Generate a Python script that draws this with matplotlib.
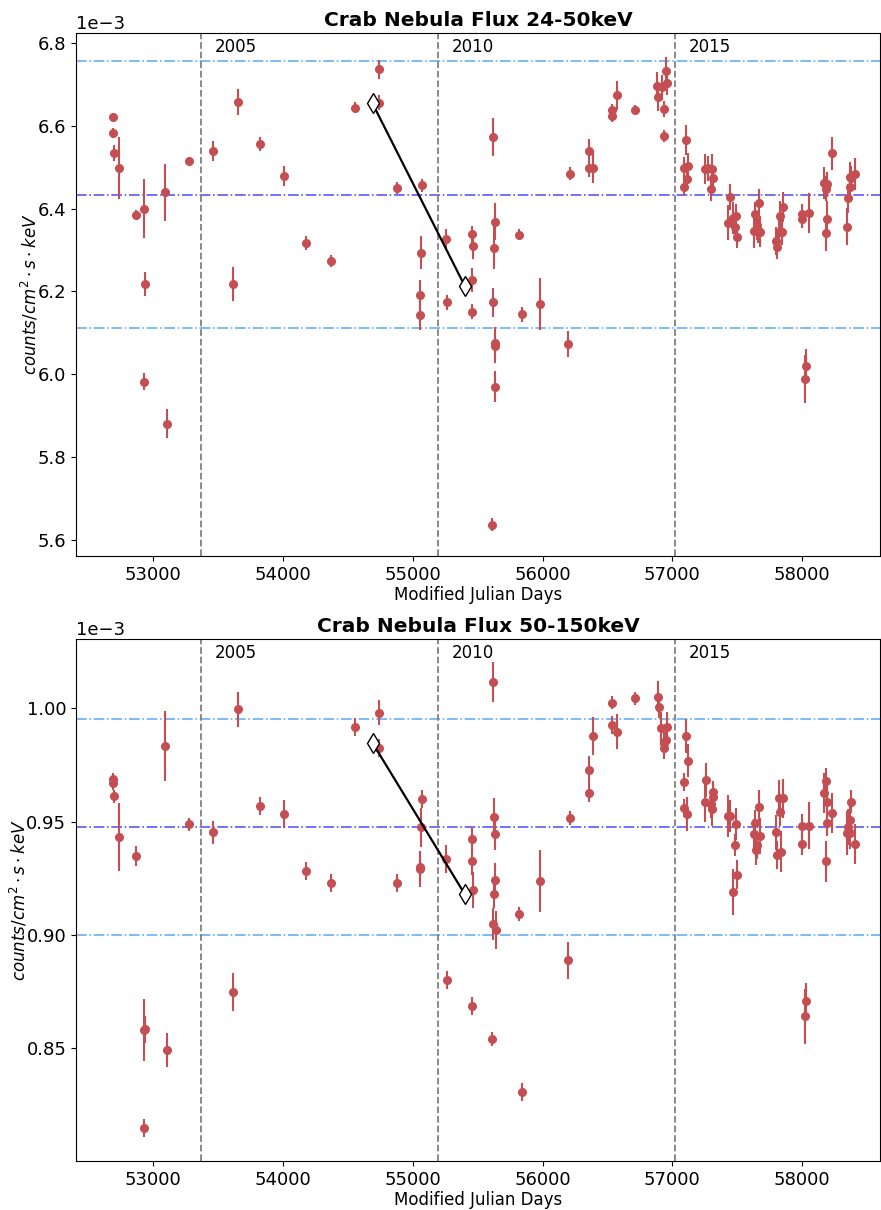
import matplotlib
matplotlib.use("Agg")
import matplotlib.pyplot as plt
import matplotlib.transforms as mtransforms
import numpy as np

# ---------------- data (flux in units of 1e-3 counts/cm^2/s/keV) ----------------
mjd_lo = [52690, 52694, 52697, 52736, 52869, 52933, 52938, 52933, 53092, 53108,
          53277, 53460, 53616, 53655, 53827, 54009, 54181, 54371, 54556, 54741,
          54741, 54877, 55072, 55062, 55059, 55057, 55260, 55265, 55458, 55465,
          55458, 55460, 55622, 55630, 55625, 55619, 55637, 55632, 55637, 55612,
          55822, 55843, 55977, 56197, 56215, 56359, 56357, 56388, 56534, 56536,
          56577, 56714, 56880, 56891, 56919, 56937, 56950, 56955, 56932, 57104,
          57091, 57124, 57114, 57091, 57253, 57271, 57304, 57314, 57299, 57443,
          57430, 57471, 57487, 57479, 57495, 57638, 57651, 57630, 57676, 57669,
          57661, 57798, 57807, 57823, 57833, 57852, 57844, 57998, 58001, 58054,
          58026, 58024, 58170, 58190, 58185, 58195, 58180, 58229, 58347, 58354,
          58365, 58372, 58380, 58408]
flux_lo = [6.622, 6.582, 6.534, 6.499, 6.385, 6.400, 6.218, 5.982, 6.439, 5.880,
           6.515, 6.540, 6.218, 6.657, 6.556, 6.479, 6.317, 6.273, 6.644, 6.736,
           6.656, 6.450, 6.456, 6.293, 6.192, 6.142, 6.327, 6.174, 6.338, 6.309,
           6.228, 6.151, 6.572, 6.368, 6.306, 6.174, 6.075, 6.068, 5.970, 5.637,
           6.337, 6.145, 6.170, 6.073, 6.484, 6.539, 6.497, 6.499, 6.624, 6.638,
           6.674, 6.639, 6.696, 6.670, 6.693, 6.641, 6.733, 6.704, 6.575, 6.566,
           6.499, 6.504, 6.472, 6.453, 6.495, 6.497, 6.495, 6.473, 6.448, 6.428,
           6.366, 6.377, 6.381, 6.356, 6.331, 6.386, 6.360, 6.346, 6.344, 6.414,
           6.348, 6.322, 6.307, 6.343, 6.382, 6.403, 6.343, 6.386, 6.374, 6.389,
           6.020, 5.988, 6.461, 6.459, 6.448, 6.374, 6.340, 6.534, 6.356, 6.425,
           6.476, 6.453, 6.473, 6.484]
err_lo = [0.010, 0.012, 0.020, 0.075, 0.012, 0.071, 0.028, 0.020, 0.068, 0.035,
          0.010, 0.024, 0.041, 0.032, 0.016, 0.025, 0.018, 0.014, 0.014, 0.023,
          0.018, 0.015, 0.015, 0.040, 0.036, 0.034, 0.024, 0.018, 0.020, 0.030,
          0.029, 0.018, 0.046, 0.045, 0.052, 0.035, 0.040, 0.040, 0.037, 0.015,
          0.014, 0.018, 0.063, 0.032, 0.016, 0.029, 0.020, 0.037, 0.015, 0.015,
          0.035, 0.012, 0.034, 0.035, 0.030, 0.020, 0.033, 0.030, 0.015, 0.036,
          0.025, 0.030, 0.025, 0.020, 0.036, 0.030, 0.037, 0.025, 0.030, 0.032,
          0.042, 0.038, 0.030, 0.030, 0.027, 0.030, 0.035, 0.042, 0.037, 0.034,
          0.030, 0.034, 0.028, 0.035, 0.036, 0.036, 0.030, 0.025, 0.020, 0.049,
          0.040, 0.058, 0.039, 0.030, 0.030, 0.044, 0.042, 0.040, 0.045, 0.035,
          0.036, 0.030, 0.030, 0.038]

mjd_hi = [52690, 52694, 52697, 52736, 52869, 52933, 52938, 52933, 53092, 53108,
          53277, 53460, 53616, 53655, 53827, 54009, 54181, 54371, 54556, 54741,
          54741, 54877, 55072, 55062, 55059, 55057, 55260, 55265, 55458, 55465,
          55458, 55460, 55622, 55627, 55630, 55637, 55625, 55619, 55640, 55612,
          55822, 55843, 55977, 56197, 56215, 56359, 56357, 56388, 56534, 56536,
          56577, 56714, 56886, 56894, 56914, 56932, 56937, 56950, 56958, 57104,
          57124, 57091, 57091, 57114, 57263, 57253, 57310, 57314, 57299, 57304,
          57430, 57443, 57487, 57482, 57471, 57495, 57638, 57630, 57645, 57653,
          57669, 57679, 57798, 57805, 57818, 57833, 57849, 57838, 57998, 58001,
          58054, 58026, 58024, 58185, 58170, 58190, 58195, 58180, 58229, 58347,
          58357, 58365, 58372, 58380, 58408]
flux_hi = [0.9687, 0.9669, 0.9612, 0.9432, 0.9350, 0.8581, 0.8584, 0.8147, 0.9834, 0.8493,
           0.9488, 0.9453, 0.8749, 0.9996, 0.9569, 0.9534, 0.9282, 0.9229, 0.9919, 0.9981,
           0.9826, 0.9228, 0.9599, 0.9476, 0.9299, 0.9290, 0.9335, 0.8800, 0.9422, 0.9200,
           0.9325, 0.8688, 1.0116, 0.9519, 0.9446, 0.9243, 0.9180, 0.9049, 0.9022, 0.8541,
           0.9093, 0.8306, 0.9238, 0.8888, 0.9515, 0.9728, 0.9625, 0.9878, 1.0025, 0.9926,
           0.9897, 1.0044, 1.0051, 1.0007, 0.9912, 0.9845, 0.9825, 0.9860, 0.9919, 0.9879,
           0.9769, 0.9676, 0.9559, 0.9535, 0.9684, 0.9585, 0.9630, 0.9610, 0.9578, 0.9557,
           0.9525, 0.9525, 0.9490, 0.9397, 0.9190, 0.9265, 0.9493, 0.9444, 0.9375, 0.9397,
           0.9563, 0.9438, 0.9453, 0.9353, 0.9603, 0.9541, 0.9603, 0.9367, 0.9482, 0.9401,
           0.9482, 0.8710, 0.8641, 0.9680, 0.9625, 0.9588, 0.9495, 0.9326, 0.9538, 0.9451,
           0.9478, 0.9507, 0.9449, 0.9588, 0.9401]
err_hi = [0.0030, 0.0030, 0.0030, 0.0149, 0.0044, 0.0136, 0.0060, 0.0040, 0.0156, 0.0075,
          0.0030, 0.0050, 0.0085, 0.0077, 0.0040, 0.0062, 0.0040, 0.0040, 0.0040, 0.0055,
          0.0040, 0.0040, 0.0040, 0.0086, 0.0070, 0.0080, 0.0060, 0.0040, 0.0050, 0.0080,
          0.0060, 0.0040, 0.0090, 0.0085, 0.0073, 0.0073, 0.0060, 0.0070, 0.0085, 0.0030,
          0.0030, 0.0040, 0.0135, 0.0080, 0.0030, 0.0060, 0.0040, 0.0085, 0.0030, 0.0040,
          0.0076, 0.0030, 0.0068, 0.0050, 0.0073, 0.0050, 0.0050, 0.0050, 0.0066, 0.0074,
          0.0073, 0.0040, 0.0040, 0.0075, 0.0073, 0.0085, 0.0050, 0.0060, 0.0060, 0.0075,
          0.0092, 0.0070, 0.0070, 0.0050, 0.0100, 0.0064, 0.0060, 0.0066, 0.0066, 0.0060,
          0.0077, 0.0080, 0.0077, 0.0060, 0.0080, 0.0060, 0.0085, 0.0090, 0.0050, 0.0050,
          0.0104, 0.0077, 0.0120, 0.0055, 0.0088, 0.0070, 0.0060, 0.0090, 0.0090, 0.0096,
          0.0080, 0.0070, 0.0070, 0.0050, 0.0087]

# diamond markers joined by a line
link_mjd = [54690, 55401]
link_lo = [6.654, 6.213]
link_hi = [0.9848, 0.9180]

# reference levels: (lower, mean, upper)
levels_lo = [6.111, 6.434, 6.756]
levels_hi = [0.9000, 0.9478, 0.9953]

# year markers
year_mjd = [53371, 55197, 57023]
year_labels = ["2005", "2010", "2015"]

titles = ["Crab Nebula Flux 24-50keV", "Crab Nebula Flux 50-150keV"]
ylims = [(5.561, 6.824), (0.8003, 1.0306)]
xlim = (52406, 58600)

# ---------------- plotting ----------------
fig = plt.figure(figsize=(8.81, 12.10), dpi=100)
ax1 = fig.add_axes([0.0863, 0.5405, 0.9126, 0.4322])
ax2 = fig.add_axes([0.0863, 0.0405, 0.9126, 0.4314])

point_color = "#c44e52"
panels = [
    (ax1, mjd_lo, flux_lo, err_lo, link_lo, levels_lo),
    (ax2, mjd_hi, flux_hi, err_hi, link_hi, levels_hi),
]
scale = 1e-3
for i, (ax, mjd, flux, err, link, levels) in enumerate(panels):
    f = np.array(flux) * scale
    e = np.array(err) * scale
    ax.errorbar(mjd, f, yerr=e, fmt="o", color=point_color, ms=5.5,
                elinewidth=1.5, capsize=0, zorder=3)
    ax.plot(link_mjd, np.array(link) * scale, color="black", lw=1.6,
            marker="d", ms=10, mfc="white", mec="black", mew=1.0, zorder=4)
    ax.axhline(levels[0] * scale, color="#66b0fa", ls="-.", lw=1.2, zorder=1)
    ax.axhline(levels[1] * scale, color="#5a5afa", ls="-.", lw=1.2, zorder=1)
    ax.axhline(levels[2] * scale, color="#66b0fa", ls="-.", lw=1.2, zorder=1)
    trans = mtransforms.blended_transform_factory(ax.transData, ax.transAxes)
    for ym, yl in zip(year_mjd, year_labels):
        ax.axvline(ym, color="gray", ls="--", lw=1.3, zorder=1)
        ax.text(ym + 100, 0.973, yl, transform=trans, ha="left", va="center",
                fontsize=12)
    ax.set_xlim(*xlim)
    ax.set_ylim(ylims[i][0] * scale, ylims[i][1] * scale)
    ax.ticklabel_format(axis="y", style="sci", scilimits=(-3, -3))
    ax.yaxis.get_offset_text().set_fontsize(13)
    ax.tick_params(axis="both", labelsize=13)
    ax.set_xlabel("Modified Julian Days", fontsize=12, labelpad=2)
    ax.set_ylabel(r"$counts/cm^2 \cdot s \cdot keV$", fontsize=12, labelpad=-2)
    ax.set_title(titles[i], fontsize=14.5, fontweight="bold", pad=5)

fig.savefig("out.png", dpi=100)
